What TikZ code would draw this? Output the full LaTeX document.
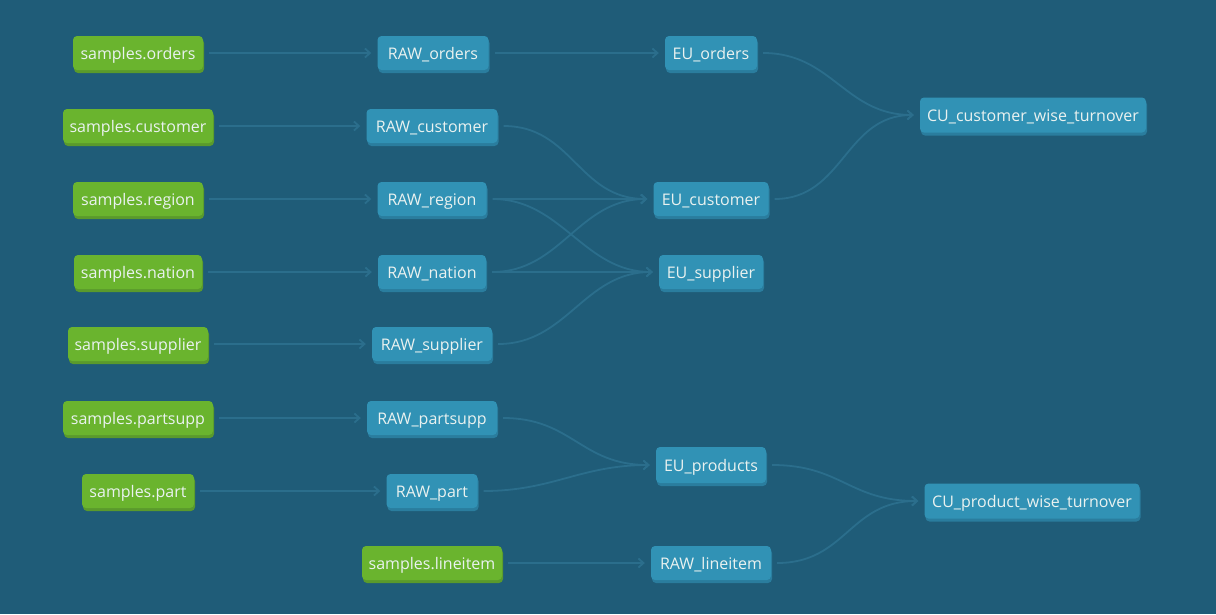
\documentclass[tikz,border=0pt]{standalone}
\usepackage{fontspec}
\setmainfont{Open Sans}
\usetikzlibrary{arrows.meta,shadows}
\definecolor{bg}{HTML}{1F5C78}
\definecolor{srcfill}{HTML}{6AB42E}
\definecolor{srcshadow}{HTML}{5A9A2C}
\definecolor{mdlfill}{HTML}{3192B5}
\definecolor{mdlshadow}{HTML}{2A7D9E}
\definecolor{edgecol}{HTML}{2B6E8C}
\definecolor{txt}{HTML}{EAF2F0}
\tikzset{
  base/.style={rectangle, rounded corners=4pt, minimum height=34pt, inner sep=0pt,
    text=txt, font=\fontsize{16}{19}\selectfont, text height=13.6pt, text depth=0pt},
  src/.style={base, fill=srcfill, drop shadow={shadow xshift=1pt, shadow yshift=-3pt, fill=srcshadow, opacity=1}},
  mdl/.style={base, fill=mdlfill, drop shadow={shadow xshift=1pt, shadow yshift=-3pt, fill=mdlshadow, opacity=1}},
  edge/.style={draw=edgecol, line width=1.8pt, shorten <=6pt, shorten >=6pt,
    -{Straight Barb[length=5pt,width=9pt]}}
}
\begin{document}
\begin{tikzpicture}[x=1pt,y=-1pt]
\fill[bg] (0,0) rectangle (1216,614);
\useasboundingbox (0,0) rectangle (1216,614);
% sources
\node[src, minimum width=130pt] (so) at (138,53) {samples.orders};
\node[src, minimum width=150pt] (sc) at (138,126) {samples.customer};
\node[src, minimum width=130pt] (sr) at (138,199) {samples.region};
\node[src, minimum width=128pt] (sn) at (138,272) {samples.nation};
\node[src, minimum width=140pt] (ss) at (138,344) {samples.supplier};
\node[src, minimum width=150pt] (sps) at (138,418) {samples.partsupp};
\node[src, minimum width=112pt] (sp) at (138,491) {samples.part};
\node[src, minimum width=140pt] (sl) at (432,563) {samples.lineitem};
% raw
\node[mdl, minimum width=111pt] (ro) at (433,53) {RAW\_orders};
\node[mdl, minimum width=131pt] (rc) at (432,126) {RAW\_customer};
\node[mdl, minimum width=109pt] (rr) at (432,199) {RAW\_region};
\node[mdl, minimum width=108pt] (rn) at (432,272) {RAW\_nation};
\node[mdl, minimum width=120pt] (rs) at (432,344) {RAW\_supplier};
\node[mdl, minimum width=130pt] (rps) at (432,418) {RAW\_partsupp};
\node[mdl, minimum width=91pt] (rp) at (432,491) {RAW\_part};
\node[mdl, minimum width=120pt] (rl) at (711,563) {RAW\_lineitem};
% eu
\node[mdl, minimum width=92pt] (eo) at (711,53) {EU\_orders};
\node[mdl, minimum width=115pt] (ec) at (711,199) {EU\_customer};
\node[mdl, minimum width=104pt] (es) at (711,272) {EU\_supplier};
\node[mdl, minimum width=110pt, minimum height=36pt] (ep) at (711,465) {EU\_products};
% cu
\node[mdl, minimum width=226pt, minimum height=35pt] (cc) at (1033,115) {CU\_customer\_wise\_turnover};
\node[mdl, minimum width=215pt, minimum height=35pt] (cp) at (1032,501) {CU\_product\_wise\_turnover};
% edges: sources to raw
\foreach \a/\b in {so/ro, sc/rc, sr/rr, sn/rn, ss/rs, sps/rps, sp/rp, sl/rl}
  \draw[edge] (\a.east) -- (\b.west);
% raw to eu, eu to cu
\foreach \a/\b in {ro/eo, rc/ec, rr/ec, rr/es, rn/ec, rn/es, rs/es, rps/ep, rp/ep, eo/cc, ec/cc, ep/cp, rl/cp}
  \draw[edge] (\a.east) .. controls +(75,0) and +(-75,0) .. (\b.west);
\end{tikzpicture}
\end{document}
